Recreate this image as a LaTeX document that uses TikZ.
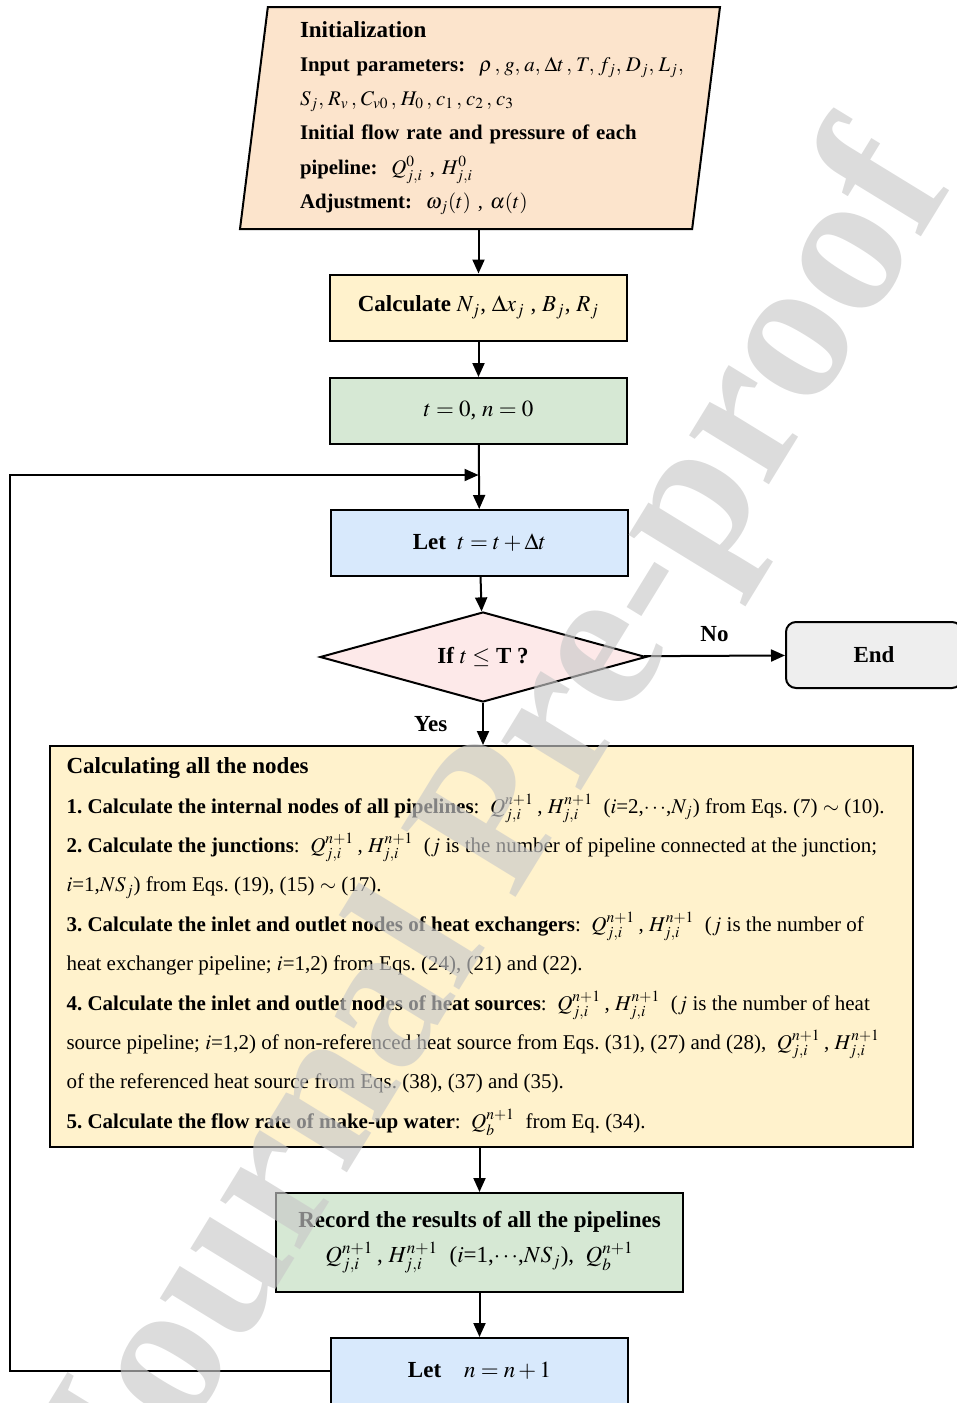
\documentclass[tikz,border=0pt]{standalone}
\usepackage{mathptmx}
\usepackage{fontspec}
\setmainfont{Liberation Serif}
\usepackage{tikz}
\usetikzlibrary{arrows.meta}
\usetikzlibrary{shapes.geometric}

\definecolor{initfill}{RGB}{252,228,204}
\definecolor{calcfill}{RGB}{255,242,204}
\definecolor{greenfill}{RGB}{214,232,212}
\definecolor{bluefill}{RGB}{216,233,252}
\definecolor{pinkfill}{RGB}{253,233,233}
\definecolor{endfill}{RGB}{238,238,238}
\definecolor{wmgray}{RGB}{201,201,201}

\newcommand{\QH}{$Q^{n+1}_{j,i}$\,, $H^{n+1}_{j,i}$}
\newcommand{\headfont}{\fontsize{11.5}{14}\selectfont}
\newcommand{\cm}{,\mskip 1.5mu}

\tikzset{
	box/.style={draw, line width=1pt, minimum width=148.5pt, minimum height=33pt, inner sep=0pt, align=center, font=\fontsize{11.5}{17.5}\selectfont},
	initbox/.style={trapezium, trapezium left angle=81.8, trapezium right angle=98.2, trapezium stretches body, draw, line width=1pt, fill=initfill, minimum width=240pt, minimum height=111pt, inner sep=0pt, text width=180pt, align=left, font=\fontsize{10.4}{17.1}\selectfont\frenchspacing},
	condbox/.style={diamond, draw, line width=1pt, fill=pinkfill, shape aspect=3.6, minimum width=163pt, minimum height=45pt, inner sep=0pt, font=\fontsize{11.5}{14}\selectfont},
	allbox/.style={draw, line width=1pt, fill=calcfill, minimum width=431.5pt, minimum height=200.5pt, text width=415pt, inner xsep=8.25pt, align=flush left, font=\fontsize{10.5}{19.7}\selectfont\frenchspacing},
	flow/.style={line width=1pt, -{Triangle[length=7pt,width=6pt]}},
	lbl/.style={font=\fontsize{11.5}{14}\selectfont\bfseries},
	wmark/.style={rotate=58.5, text=wmgray, text opacity=0.65, font=\fontsize{102}{102}\selectfont\bfseries}
}

\begin{document}
\begin{tikzpicture}[x=0.5pt,y=-0.5pt]
	\useasboundingbox (0,0) rectangle (957,1403);
	\node[initbox] (init) at (480,118) {{\headfont\textbf{Initialization}}\\
		\mbox{\textbf{Input parameters:}\ \ $\rho\,\cm g\cm a\cm \Delta t\,\cm T\cm f_j\cm D_j\cm L_j,$}\\
		\mbox{$S_j\cm R_v\,\cm C_{v0}\,\cm H_0\,\cm c_1\,\cm c_2\,\cm c_3$}\\
		\mbox{\textbf{Initial flow rate and pressure of each}}\\
		\textbf{pipeline:}\ \ $Q^0_{j,i}$ , $H^0_{j,i}$\\
		\textbf{Adjustment:}\ \ $\omega_j(t)$ , $\alpha(t)$};
	\node[box, fill=calcfill] (calc) at (478.5,307.5) {\textbf{Calculate} $N_j$, $\Delta x_j$ , $B_j$, $R_j$};
	\node[box, fill=greenfill] (tzero) at (478.5,411) {$t=0$, $n=0$};
	\node[box, fill=bluefill] (lett) at (479.5,543) {\textbf{Let}\ \ $t=t+\Delta t$};
	\node[condbox] (cond) at (483,657) {\textbf{If} $t\leq$ \textbf{T ?}};
	\node[box, fill=endfill, rounded corners=5pt, minimum width=88pt] (stop) at (874,655) {\textbf{End}};
	\node[allbox] (nodes) at (481.5,946.5) {{\headfont\textbf{Calculating all the nodes}}\\
		\textbf{1. Calculate the internal nodes of all pipelines}:\ \ \QH\ \ ($i$=2,$\cdots$,$N_j$) from Eqs. (7) $\sim$ (10).\\
		\textbf{2. Calculate the junctions}:\ \ \QH\ \ ($j$ is the number of pipeline connected at the junction;\\
		$i$=1,$NS_j$) from Eqs. (19), (15) $\sim$ (17).\\
		\textbf{3. Calculate the inlet and outlet nodes of heat exchangers}:\ \ \QH\ \ ($j$ is the number of\\
		heat exchanger pipeline; $i$=1,2) from Eqs. (24), (21) and (22).\\
		\textbf{4. Calculate the inlet and outlet nodes of heat sources}:\ \ \QH\ \ ($j$ is the number of heat\\
		source pipeline; $i$=1,2) of non-referenced heat source from Eqs. (31), (27) and (28),\ \ \QH\\
		of the referenced heat source from Eqs. (38), (37) and (35).\\
		\textbf{5. Calculate the flow rate of make-up water}:\ \ $Q^{n+1}_b$\ \ from Eq. (34).};
	\node[box, fill=greenfill, minimum width=203.5pt, minimum height=49.5pt] (record) at (479.5,1242.5) {\textbf{Record the results of all the pipelines}\\
		\QH\ \ ($i$=1,$\cdots$,$NS_j$),\ \ $Q^{n+1}_b$};
	\node[box, fill=bluefill] (letn) at (479.5,1371) {\textbf{Let}\quad $n=n+1$};
	\coordinate (backin) at (478.5,475);
	\coordinate (loopx) at (10,475);
	\draw[flow] (init.south -| calc.north) -- (calc.north);
	\draw[flow] (calc) -- (tzero);
	\draw[flow] (tzero) -- (lett);
	\draw[flow] (letn.west) -| (loopx) |- (backin);
	\draw[flow] (lett) -- (cond);
	\draw[flow] (cond) -- node[lbl, above=3pt] {No} (stop);
	\draw[flow] (cond.south) -- node[lbl, left=14pt] {Yes} (cond.south |- nodes.north);
	\draw[flow] (nodes.south -| record.north) -- (record.north);
	\draw[flow] (record) -- (letn);
	\node[wmark] (wm) at (500,828) {Journal Pre-proof};
\end{tikzpicture}
\end{document}
